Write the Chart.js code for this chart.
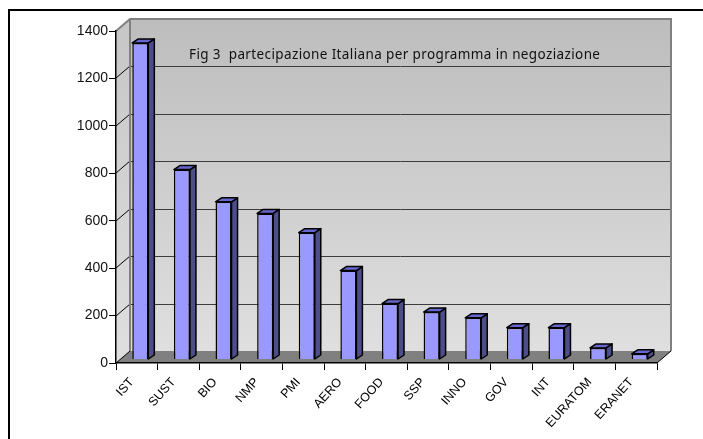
<!DOCTYPE html>
<html>
<head>
<meta charset="utf-8">
<title>Fig 3</title>
<script src="https://cdn.jsdelivr.net/npm/chart.js@4"></script>
<style>
  html, body { margin: 0; padding: 0; background: #fff; }
  canvas { display: block; }
</style>
</head>
<body>
<canvas id="figChart" width="703" height="439"></canvas>
<script>
const programmi = ['IST', 'SUST', 'BIO', 'NMP', 'PMI', 'AERO', 'FOOD', 'SSP', 'INNO', 'GOV', 'INT', 'EURATOM', 'ERANET'];
const partecipazioni = [1335, 801, 665, 616, 535, 375, 236, 200, 176, 134, 134, 49, 24];
const yTicks = [0, 200, 400, 600, 800, 1000, 1200, 1400];
const titolo = 'Fig 3  partecipazione Italiana per programma in negoziazione';

// depth of the 3D box and of the single bars
const wallDx = 14, wallDy = 12;
const barOffset = 3.5, barDx = 6, barDy = 4;

function poly(ctx, pts, fill, stroke, lw) {
  ctx.beginPath();
  pts.forEach((p, i) => i ? ctx.lineTo(p[0], p[1]) : ctx.moveTo(p[0], p[1]));
  ctx.closePath();
  if (fill) { ctx.fillStyle = fill; ctx.fill(); }
  if (stroke) { ctx.strokeStyle = stroke; ctx.lineWidth = lw; ctx.stroke(); }
}

// frame + walls + floor + gridlines, under everything else
const box3d = {
  id: 'box3d',
  beforeDraw(chart) {
    const { ctx, chartArea: a, scales: { y } } = chart;
    ctx.save();
    // outer frame, cut off on the right and at the bottom
    ctx.fillStyle = '#000';
    ctx.fillRect(8, 9, 695, 2);
    ctx.fillRect(8, 9, 2, 430);

    const backGrad = ctx.createLinearGradient(0, a.top - wallDy, 0, a.bottom - wallDy);
    backGrad.addColorStop(0, '#bdbdbd');
    backGrad.addColorStop(1, '#dfdfdf');
    const sideGrad = ctx.createLinearGradient(0, a.top - wallDy, 0, a.bottom);
    sideGrad.addColorStop(0, '#c6c6c6');
    sideGrad.addColorStop(1, '#dfdfdf');

    poly(ctx, [[a.left, a.top], [a.left + wallDx, a.top - wallDy], [a.left + wallDx, a.bottom - wallDy], [a.left, a.bottom]], sideGrad);
    poly(ctx, [[a.left + wallDx, a.top - wallDy], [a.right + wallDx, a.top - wallDy], [a.right + wallDx, a.bottom - wallDy], [a.left + wallDx, a.bottom - wallDy]], backGrad);
    poly(ctx, [[a.left, a.bottom], [a.left + wallDx, a.bottom - wallDy], [a.right + wallDx, a.bottom - wallDy], [a.right, a.bottom]], '#808080');

    // gridlines run along the side wall and then along the back wall
    yTicks.forEach(v => {
      if (v === 0 || v === 1400) return;
      const py = Math.round(y.getPixelForValue(v));
      ctx.strokeStyle = '#000';
      ctx.lineWidth = 1;
      ctx.beginPath();
      ctx.moveTo(a.left, py);
      ctx.lineTo(a.left + wallDx, py - wallDy);
      ctx.stroke();
      ctx.strokeStyle = '#3c3c3c';
      ctx.lineWidth = 1;
      ctx.beginPath();
      ctx.moveTo(a.left + wallDx, py - wallDy + 0.5);
      ctx.lineTo(a.right + wallDx, py - wallDy + 0.5);
      ctx.stroke();
    });

    // grey edges of the back wall
    ctx.strokeStyle = '#808080';
    ctx.lineWidth = 2;
    ctx.beginPath();
    ctx.moveTo(a.left, a.top);
    ctx.lineTo(a.left + wallDx, a.top - wallDy);
    ctx.lineTo(a.right + wallDx, a.top - wallDy);
    ctx.lineTo(a.right + wallDx, a.bottom - wallDy);
    ctx.moveTo(a.left + wallDx, a.top - wallDy);
    ctx.lineTo(a.left + wallDx, a.bottom - wallDy);
    ctx.stroke();

    // front edge of the floor on the right
    ctx.strokeStyle = '#000';
    ctx.lineWidth = 1;
    ctx.beginPath();
    ctx.moveTo(a.right, a.bottom);
    ctx.lineTo(a.right + wallDx, a.bottom - wallDy);
    ctx.moveTo(a.left, a.bottom);
    ctx.lineTo(a.left + wallDx, a.bottom - wallDy);
    ctx.stroke();
    ctx.restore();
  },
  beforeDatasetsDraw(chart) {
    const { ctx } = chart;
    ctx.save();
    ctx.fillStyle = '#111';
    ctx.font = '13.5px "Noto Sans"';
    ctx.letterSpacing = '0.38px';
    ctx.textBaseline = 'middle';
    ctx.fillText(titolo, 189, 55);
    ctx.restore();

    // side and top faces come from the bar elements themselves
    ctx.save();
    ctx.translate(barOffset, -barOffset);
    ctx.lineJoin = 'round';
    chart.getDatasetMeta(0).data.forEach(bar => {
      const l = bar.x - bar.width / 2, r = bar.x + bar.width / 2;
      poly(ctx, [[r, bar.y], [r + barDx, bar.y - barDy], [r + barDx, bar.base - barDy], [r, bar.base]], '#4d4d8c', '#000', 1.5);
      poly(ctx, [[l, bar.y], [l + barDx, bar.y - barDy], [r + barDx, bar.y - barDy], [r, bar.y]], '#6666cc', '#000', 1.5);
    });
  },
  afterDatasetsDraw(chart) {
    chart.ctx.restore();
  }
};

new Chart(document.getElementById('figChart').getContext('2d'), {
  type: 'bar',
  data: {
    labels: programmi,
    datasets: [{
      data: partecipazioni,
      backgroundColor: '#9999ff',
      borderColor: '#000',
      borderWidth: 1.5,
      barPercentage: 0.385,
      categoryPercentage: 1,
      clip: false
    }]
  },
  options: {
    responsive: false,
    animation: false,
    devicePixelRatio: 1,
    layout: { padding: { top: 31, right: 46, bottom: 0, left: 0 } },
    plugins: { legend: { display: false }, title: { display: false }, tooltip: { enabled: false } },
    scales: {
      x: {
        grid: { offset: true, drawOnChartArea: false, color: '#000', tickLength: 7, tickWidth: 1 },
        border: { color: '#000', width: 1.5 },
        ticks: { color: '#000', font: { family: 'Liberation Sans', size: 12.5 }, minRotation: 48, maxRotation: 48, padding: 5, labelOffset: -5, autoSkip: false },
        afterFit(scale) { scale.height = 76; }
      },
      y: {
        min: 0,
        max: 1400,
        afterBuildTicks(scale) { scale.ticks = yTicks.map(v => ({ value: v })); },
        grid: { drawOnChartArea: false, color: '#000', tickLength: 7, tickWidth: 1 },
        border: { color: '#000', width: 1.5 },
        ticks: { color: '#111', font: { family: 'Liberation Sans', size: 14 }, padding: 1, callback: v => String(v) },
        afterFit(scale) { scale.width = 116; }
      }
    }
  },
  plugins: [box3d]
});
</script>
</body>
</html>
